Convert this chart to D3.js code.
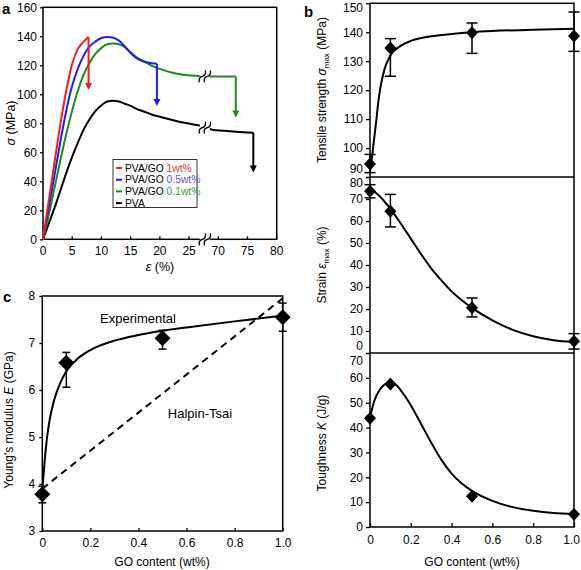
<!DOCTYPE html>
<html><head><meta charset="utf-8">
<script src="https://cdn.jsdelivr.net/npm/d3@7"></script>
<style>body{margin:0;background:#fff}svg{font-family:"Liberation Sans",Arial,sans-serif}</style>
</head><body>
<script>
// ---------- Panel a data (stress-strain) ----------
const strainRed   = [0,1,2,3,4,5,6,7,7.8];
const stressRed   = [0,27,54,80,103,121,131.5,136.5,139.5];
const breakRed    = 103;
const strainBlue  = [0,1,2,3,4,5,6,7,8,9,10,11,12,13,14,15,16,17,18,19.5];
const stressBlue  = [0,22,45,68,89,106,118,127,133,136.5,138.8,139.5,139,137,133,128.5,125,123,122,121];
const breakBlue   = 92;
const strainGreen = [0,1,2,3,4,5,6,7,8,9,10,11,12,13,14,15,16,17,18,19,20,22,24,26,27.5,69,73];
const stressGreen = [0,17,36,55,73,89,103,114,122,128,132,134.5,135,134.5,132.5,129,125.5,123,121,119,117.5,115,113.5,112.8,112.5,112.3,112.2];
const breakGreen  = 84;
const strainBlack = [0,1,2,3,4,5,6,7,8,9,10,11,12,13,14,15,16,17,18,19,20,22,24,26,27.5,69,71,73,76];
const stressBlack = [0,11,22,34,46,57,67,76,83,88.5,92.5,95,95.5,95,93.5,92,90,88.5,87,85.5,84.5,82.5,80.5,79,78,75.5,74.8,74.2,73.5];
const breakBlack  = 46;
const aXTicks = [0,5,10,15,20,25,70,75,80];
const aYTicks = [0,20,40,60,80,100,120,140,160];
const legendNames = ["PVA/GO ","PVA/GO ","PVA/GO ","PVA"];
const legendConc  = ["1wt%","0.5wt%","0.1wt%",""];

// ---------- Panel b data ----------
const goContent   = [0,0.1,0.5,1.0];
const tensile     = [94.5,134.6,139.8,138.7];
const tensileLow  = [91.5,124.8,132.7,133.4];
const tensileHigh = [97.8,137.8,143.2,147];
const tensileFitX = [0,0.01,0.02,0.03,0.04,0.05,0.07,0.1,0.15,0.2,0.3,0.4,0.5,0.6,0.8,1.0];
const tensileFitY = [92,97,103,109,115.5,120.5,127,132,135.3,137,138.6,139.4,140,140.4,140.9,141.2];
const strainMax     = [73.5,64.4,20.6,5.3];
const strainLow     = [70.5,57.3,16.4,1.8];
const strainHigh    = [76.5,72.1,25,8.8];
const strainFitX = [0,0.05,0.1,0.15,0.2,0.25,0.3,0.35,0.4,0.5,0.6,0.7,0.8,0.9,1.0];
const strainFitY = [75,71,65.5,59,52,45,38.5,33,28,20.5,14.8,10.5,7.6,5.8,5];
const toughness   = [43.7,57.5,12.4,5.1];
const toughFitX = [0,0.02,0.05,0.08,0.1,0.13,0.16,0.2,0.25,0.3,0.35,0.4,0.45,0.5,0.6,0.7,0.8,0.9,1.0];
const toughFitY = [44,50.5,55.5,57.8,58.2,57,54,49,41.5,34,27,21.5,17.5,14.5,10.5,8,6.5,5.6,5.2];
const bXTicks = [0,0.2,0.4,0.6,0.8,1.0];
const bY1Ticks = [90,100,110,120,130,140,150];
const bY2Ticks = [0,10,20,30,40,50,60,70,80];
const bY3Ticks = [0,10,20,30,40,50,60,70];

// ---------- Panel c data ----------
const modulus     = [3.78,6.58,7.1,7.55];
const modulusLow  = [3.6,6.06,6.87,7.25];
const modulusHigh = [3.95,6.8,7.27,7.85];
const expFitX = [0,0.01,0.02,0.03,0.05,0.075,0.1,0.15,0.2,0.3,0.4,0.5,0.6,0.8,1.0];
const expFitY = [3.85,4.5,5.0,5.35,5.8,6.15,6.4,6.68,6.85,7.05,7.17,7.26,7.33,7.46,7.58];
const htX = [0,1.0];
const htY = [3.9,7.95];
const cXTicks = [0,0.2,0.4,0.6,0.8,1.0];
const cYTicks = [3,4,5,6,7,8];

const svg = d3.select("body").append("svg").attr("width",581).attr("height",570);
const FS = 12;
const fmtB = d => d===0 ? "0" : d3.format(".1f")(d);

function frame(x0,x1,y0,y1){
  svg.append("rect").attr("x",x0).attr("y",y0).attr("width",x1-x0).attr("height",y1-y0)
    .attr("fill","none").attr("stroke","#000").attr("stroke-width",1.5);
}
function styleAxis(g){
  g.select(".domain").remove();
  g.selectAll("line").attr("stroke","#000").attr("stroke-width",1.3);
  g.selectAll("text").attr("font-size",FS).attr("fill","#000").attr("font-family","Liberation Sans, Arial, sans-serif");
}
function diamond(w,h){return `M0,${-h}L${w},0L0,${h}L${-w},0Z`;}
function errBars(xs,lo,hi,x,y,cap){
  xs.forEach((v,i)=>{
    const px=x(v);
    svg.append("line").attr("x1",px).attr("x2",px).attr("y1",y(lo[i])).attr("y2",y(hi[i])).attr("stroke","#000").attr("stroke-width",1.5);
    [lo[i],hi[i]].forEach(e=>svg.append("line").attr("x1",px-cap).attr("x2",px+cap).attr("y1",y(e)).attr("y2",y(e)).attr("stroke","#000").attr("stroke-width",1.5));
  });
}
function marks(xs,ys,x,y,w,h){
  xs.forEach((v,i)=>svg.append("path").attr("d",diamond(w,h)).attr("transform",`translate(${x(v)},${y(ys[i])})`).attr("fill","#000"));
}
function fitLine(xs,ys,x,y,dash){
  const p = svg.append("path").datum(xs.map((v,i)=>[v,ys[i]]))
    .attr("d",d3.line().x(d=>x(d[0])).y(d=>y(d[1])).curve(d3.curveMonotoneX))
    .attr("fill","none").attr("stroke","#000").attr("stroke-width",2);
  if(dash) p.attr("stroke-dasharray",dash);
}

// ================= Panel a =================
const mapA = v => v <= 27.5 ? v : v - 40;
const xa = d3.scaleLinear().domain([0,40]).range([43,276.7]);
const xA = v => xa(mapA(v));
const ya = d3.scaleLinear().domain([0,160]).range([239.3,7.3]);
{
  const gX = svg.append("g").attr("transform","translate(0,239.3)");
  aXTicks.forEach(t=>{
    gX.append("line").attr("x1",xA(t)).attr("x2",xA(t)).attr("y1",0).attr("y2",-3).attr("stroke","#000").attr("stroke-width",1.3);
    gX.append("text").attr("x",xA(t)).attr("y",16).attr("text-anchor","middle").attr("font-size",FS).text(t);
  });
  const gY = svg.append("g").attr("transform","translate(43,0)")
    .call(d3.axisLeft(ya).tickValues(aYTicks).tickSize(3).tickPadding(3));
  styleAxis(gY);
  frame(43,276.7,7.3,239.3);
  const series = [
    {x:strainRed,y:stressRed,end:breakRed,c:"#f01e1e"},
    {x:strainBlue,y:stressBlue,end:breakBlue,c:"#1e1ef0"},
    {x:strainGreen,y:stressGreen,end:breakGreen,c:"#1e8c1e"},
    {x:strainBlack,y:stressBlack,end:breakBlack,c:"#000"}
  ];
  series.slice().reverse().forEach(s=>{
    svg.append("path").datum(s.x.map((v,i)=>[v,s.y[i]]))
      .attr("d",d3.line().x(d=>xA(d[0])).y(d=>ya(d[1])).curve(d3.curveMonotoneX))
      .attr("fill","none").attr("stroke",s.c).attr("stroke-width",2);
    const lx = xA(s.x[s.x.length-1]), ly0 = ya(s.y[s.y.length-1]), ly1 = ya(s.end);
    svg.append("line").attr("x1",lx).attr("x2",lx).attr("y1",ly0).attr("y2",ly1-6).attr("stroke",s.c).attr("stroke-width",2);
    svg.append("path").attr("d",`M${lx-3.5},${ly1-7}L${lx+3.5},${ly1-7}L${lx},${ly1}Z`).attr("fill",s.c);
  });
  const brk = (cx,cy)=>{
    svg.append("rect").attr("x",cx-5).attr("y",cy-6).attr("width",10).attr("height",12).attr("fill","#fff");
    [-2.5,2.5].forEach(dx=>{
      const x=cx+dx;
      svg.append("path").attr("d",`M${x-3},${cy+6} Q${x-4},${cy+1} ${x},${cy} T${x+3},${cy-6}`)
        .attr("fill","none").attr("stroke","#000").attr("stroke-width",1.3);
    });
  };
  brk(xa(27.7), ya(112.4));
  brk(xa(27.7), ya(77));
  brk(xa(27.7), ya(0));
  const lg = svg.append("g");
  lg.append("rect").attr("x",113).attr("y",159.5).attr("width",84).attr("height",48).attr("fill","#fff").attr("stroke","#333").attr("stroke-width",1);
  const lcol = ["#f01e1e","#1e1ef0","#1e8c1e","#000"];
  const tcol = ["#e83030","#5a5ae0","#3c9a3c","#000"];
  legendNames.forEach((n,i)=>{
    const yy = 168 + i*11.7;
    lg.append("line").attr("x1",116).attr("x2",122).attr("y1",yy).attr("y2",yy).attr("stroke",lcol[i]).attr("stroke-width",2);
    const t = lg.append("text").attr("x",125).attr("y",yy+3.6).attr("font-size",10.3).attr("fill","#000");
    t.append("tspan").text(n);
    t.append("tspan").attr("fill",tcol[i]).text(legendConc[i]);
  });
  svg.append("text").attr("x",160).attr("y",271).attr("text-anchor","middle").attr("font-size",12.5)
    .html('<tspan font-style="italic">ε</tspan> (%)');
  svg.append("text").attr("transform","translate(15,123) rotate(-90)").attr("text-anchor","middle").attr("font-size",12.5)
    .html('<tspan font-style="italic">σ</tspan> (MPa)');
  svg.append("text").attr("x",2).attr("y",14).attr("font-size",15).attr("font-weight","bold").text("a");
}

// ================= Panel b =================
const xb = d3.scaleLinear().domain([0,1]).range([370,574]);
const yb1 = d3.scaleLinear().domain([90,150]).range([177,3.3]);
const yb2 = d3.scaleLinear().domain([0,80]).range([353,177]);
const yb3 = d3.scaleLinear().domain([0,70]).range([527,353]);
{
  const shifts = [[yb1,bY1Ticks,{150:4,90:-8}],[yb2,bY2Ticks,{80:6,0:-7}],[yb3,bY3Ticks,{70:8}]];
  shifts.forEach(([sc,tv,sh])=>{
    const g = svg.append("g").attr("transform","translate(370,0)")
      .call(d3.axisLeft(sc).tickValues(tv).tickSize(4).tickPadding(3));
    styleAxis(g);
    g.selectAll(".tick").each(function(d){
      if(sh[d]!==undefined) d3.select(this).select("text").attr("transform",`translate(0,${sh[d]})`);
    });
  });
  const gx = svg.append("g").attr("transform","translate(0,527)")
    .call(d3.axisBottom(xb).tickValues(bXTicks).tickFormat(fmtB).tickSize(-4).tickPadding(8));
  styleAxis(gx);
  gx.selectAll(".tick").filter(d=>d===1).select("text").attr("transform","translate(-3,0)");
  frame(370,574,3.3,527);
  svg.append("line").attr("x1",370).attr("x2",574).attr("y1",177).attr("y2",177).attr("stroke","#000").attr("stroke-width",1.5);
  svg.append("line").attr("x1",370).attr("x2",574).attr("y1",353).attr("y2",353).attr("stroke","#000").attr("stroke-width",1.5);
  fitLine(tensileFitX,tensileFitY,xb,yb1);
  errBars(goContent,tensileLow,tensileHigh,xb,yb1,5.5);
  marks(goContent,tensile,xb,yb1,6,6.5);
  fitLine(strainFitX,strainFitY,xb,yb2);
  errBars(goContent,strainLow,strainHigh,xb,yb2,5.5);
  marks(goContent,strainMax,xb,yb2,6,6.5);
  fitLine(toughFitX,toughFitY,xb,yb3);
  marks(goContent,toughness,xb,yb3,6,6.5);
  svg.append("text").attr("transform","translate(326,90) rotate(-90)").attr("text-anchor","middle").attr("font-size",12)
    .html('Tensile strength <tspan font-style="italic">σ</tspan><tspan font-size="8" dy="3">max</tspan><tspan dy="-3"> (MPa)</tspan>');
  svg.append("text").attr("transform","translate(326,265) rotate(-90)").attr("text-anchor","middle").attr("font-size",12)
    .html('Strain <tspan font-style="italic">ε</tspan><tspan font-size="8" dy="3">max</tspan><tspan dy="-3"> (%)</tspan>');
  svg.append("text").attr("transform","translate(326,443) rotate(-90)").attr("text-anchor","middle").attr("font-size",12)
    .html('Toughness <tspan font-style="italic">K</tspan> (J/g)');
  svg.append("text").attr("x",472).attr("y",566).attr("text-anchor","middle").attr("font-size",12).text("GO content (wt%)");
  svg.append("text").attr("x",304).attr("y",17).attr("font-size",15).attr("font-weight","bold").text("b");
}

// ================= Panel c =================
const xc = d3.scaleLinear().domain([0,1]).range([42.3,282.7]);
const yc = d3.scaleLinear().domain([3,8]).range([531,296]);
{
  const gy = svg.append("g").attr("transform","translate(42.3,0)")
    .call(d3.axisLeft(yc).tickValues(cYTicks).tickFormat(d3.format("d")).tickSize(3).tickPadding(4));
  styleAxis(gy);
  const gx = svg.append("g").attr("transform","translate(0,531)")
    .call(d3.axisBottom(xc).tickValues(cXTicks).tickFormat(fmtB).tickSize(-3).tickPadding(7));
  styleAxis(gx);
  frame(42.3,282.7,296,531);
  fitLine(htX,htY,xc,yc,"7,5");
  fitLine(expFitX,expFitY,xc,yc);
  errBars(goContent,modulusLow,modulusHigh,xc,yc,4);
  marks(goContent,modulus,xc,yc,8,8);
  svg.append("text").attr("x",138).attr("y",323).attr("text-anchor","middle").attr("font-size",13).text("Experimental");
  svg.append("text").attr("x",200).attr("y",418).attr("text-anchor","middle").attr("font-size",13).text("Halpin-Tsai");
  svg.append("text").attr("transform","translate(13,420) rotate(-90)").attr("text-anchor","middle").attr("font-size",12)
    .html('Young\'s modulus <tspan font-style="italic">E</tspan> (GPa)');
  svg.append("text").attr("x",162).attr("y",566).attr("text-anchor","middle").attr("font-size",12).text("GO content (wt%)");
  svg.append("text").attr("x",3).attr("y",302).attr("font-size",15).attr("font-weight","bold").text("c");
}
</script>
</body></html>
